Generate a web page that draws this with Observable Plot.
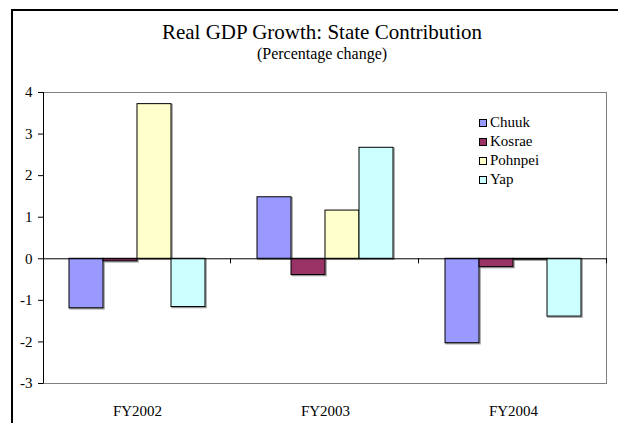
<!DOCTYPE html>
<html>
<head>
<meta charset="utf-8">
<script src="https://cdn.jsdelivr.net/npm/d3@7"></script>
<script src="https://cdn.jsdelivr.net/npm/@observablehq/plot@0.6"></script>
<style>
  body { margin: 0; background: #fff; }
  #wrap { position: relative; width: 618px; height: 423px; overflow: hidden; background: #fff;
          font-family: "Liberation Serif", "Times New Roman", "DejaVu Serif", serif; color: #000; }
  #wrap svg { position: absolute; left: 0; top: 0; }
  #wrap svg text { font-family: "Liberation Serif", "Times New Roman", "DejaVu Serif", serif; }
  #frame { position: absolute; left: 11px; top: 9px; width: 900px; height: 900px;
           border-left: 2px solid #000; border-top: 2px solid #000; pointer-events: none; }
  .t { position: absolute; left: 0; width: 644px; text-align: center; white-space: nowrap; line-height: 1; }
  #title { top: 22px; font-size: 21px; }
  #subtitle { top: 46px; font-size: 16px; }
  #legend { position: absolute; left: 479px; top: 113px; font-size: 15px;
            font-family: "Liberation Serif", "Times New Roman", "DejaVu Serif", serif; }
  .row { display: flex; align-items: center; height: 19px; }
  .sw { width: 6px; height: 6px; border: 1px solid #000; margin-right: 3px; }
</style>
</head>
<body>
<div id="wrap">
  <div id="title" class="t">Real GDP Growth: State Contribution</div>
  <div id="subtitle" class="t">(Percentage change)</div>
  <div id="legend"></div>
  <div id="frame"></div>
</div>
<script>
// ---- data ----
const categories = ["FY2002", "FY2003", "FY2004"];
const series = ["Chuuk", "Kosrae", "Pohnpei", "Yap"];
const chuuk   = [-1.19,  1.48, -2.03];
const kosrae  = [-0.06, -0.39, -0.20];
const pohnpei = [ 3.72,  1.16, -0.02];
const yap     = [-1.16,  2.67, -1.39];
const colors  = ["#9999FF", "#993366", "#FFFFCC", "#CCFFFF"];
const yTicks  = [-3, -2, -1, 0, 1, 2, 3, 4];

const values = [chuuk, kosrae, pohnpei, yap];
const data = categories.flatMap((c, i) =>
  series.map((s, j) => ({cat: c, series: s, value: values[j][i]})));

const serif = "'Liberation Serif', 'Times New Roman', 'DejaVu Serif', serif";

const plot = Plot.plot({
  width: 618,
  height: 423,
  marginTop: 92,
  marginBottom: 40,
  marginLeft: 43,
  marginRight: 11,
  style: {fontFamily: serif, fontSize: "15px", background: "none", color: "#000"},
  fx: {domain: categories, paddingInner: 0, paddingOuter: 0, axis: "bottom", tickSize: 0, tickPadding: 22, label: null},
  x: {domain: series, paddingInner: 0, paddingOuter: 0.745, axis: null},
  y: {domain: [-3, 4], ticks: yTicks, tickSize: 5, tickPadding: 6, tickFormat: d => String(d), label: null},
  color: {domain: series, range: colors},
  marks: [
    // soft drop shadow under each bar
    Plot.barY(data, {fx: "cat", x: "series", y: "value", fill: "none", stroke: "#9a9a9a", strokeWidth: 1.5, dx: 1, dy: 1}),
    Plot.barY(data, {fx: "cat", x: "series", y: "value", fill: "series", stroke: "#000", strokeWidth: 1}),
    Plot.ruleY([0], {stroke: "#000", strokeWidth: 1})
  ]
});

document.getElementById("wrap").prepend(plot);

// decorations derived from the plot's own scales
const svg = d3.select(plot);
const ys = plot.scale("y"), fxs = plot.scale("fx");
const y = d3.scaleLinear(ys.domain, ys.range);
const fx = d3.scaleBand(fxs.domain, fxs.range).paddingInner(0).paddingOuter(0);
const [x0, x1] = fxs.range;
const yTop = y(d3.max(ys.domain)), yBot = y(d3.min(ys.domain));

svg.insert("rect", ":first-child")
  .attr("x", x0 + 0.5).attr("y", yTop + 0.5)
  .attr("width", x1 - x0 - 1).attr("height", yBot - yTop)
  .attr("fill", "none").attr("stroke", "#808080");

svg.append("line")
  .attr("x1", x0 + 0.5).attr("x2", x0 + 0.5).attr("y1", yTop).attr("y2", yBot + 0.5)
  .attr("stroke", "#000");

svg.append("g").selectAll("line").data(categories).join("line")
  .attr("x1", c => fx(c) + fx.bandwidth() - 0.5).attr("x2", c => fx(c) + fx.bandwidth() - 0.5)
  .attr("y1", y(0)).attr("y2", y(0) + 5)
  .attr("stroke", "#000");

// legend
const legend = d3.select("#legend");
series.forEach((s, i) => {
  const row = legend.append("div").attr("class", "row");
  row.append("div").attr("class", "sw").style("background", colors[i]);
  row.append("span").text(s);
});
</script>
</body>
</html>
